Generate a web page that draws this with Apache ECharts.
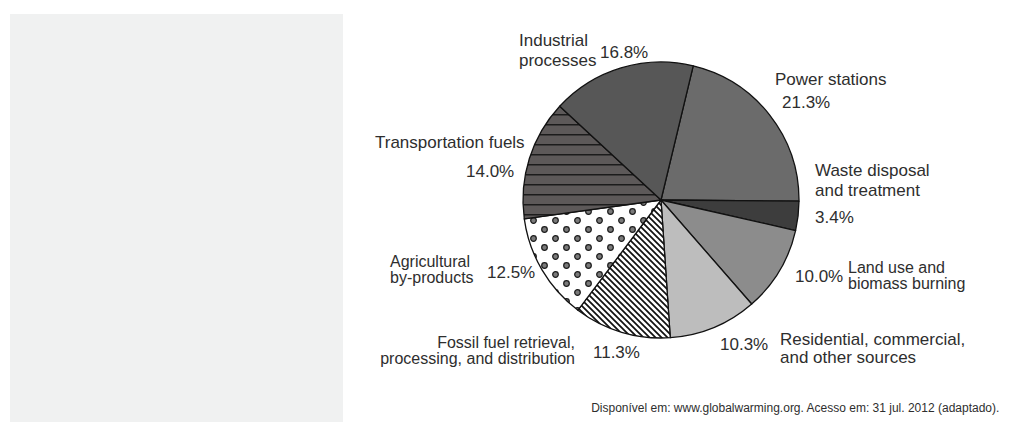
<!DOCTYPE html>
<html><head><meta charset="utf-8">
<script src="https://cdn.jsdelivr.net/npm/echarts@6/dist/echarts.min.js"></script>
<style>html,body{margin:0;padding:0;background:#fff}#c{width:1010px;height:425px}</style>
</head><body><div id="c"></div>
<script>
// ---- data ----
const categories = [
  "Power stations",
  "Waste disposal\nand treatment",
  "Land use and\nbiomass burning",
  "Residential, commercial,\nand other sources",
  "Fossil fuel retrieval,\nprocessing, and distribution",
  "Agricultural\nby-products",
  "Transportation fuels",
  "Industrial\nprocesses"
];
const shares = [21.3, 3.4, 10.0, 10.3, 11.3, 12.5, 14.0, 16.8];
const sourceNote = "Disponível em: www.globalwarming.org. Acesso em: 31 jul. 2012 (adaptado).";

// ---- layout (label placement only): x, y, align, lineHeight, fontSize ----
const namePos = [
  [775, 79, 'left', 20, 17], [815, 180, 'left', 20, 17], [848, 275.5, 'left', 16.5, 16],
  [780, 348, 'left', 18, 17], [575, 350.5, 'right', 16.5, 16], [390, 269.5, 'left', 16.5, 16],
  [375, 142, 'left', 20, 17], [519, 50, 'left', 20, 17]
];
const pctPos = [
  [782, 102], [815, 217], [795, 276.5], [720, 344],
  [593, 352], [487, 272], [466, 171], [600, 52]
];

// ---- patterns ----
function tile(w, h, draw) {
  const c = document.createElement('canvas'); c.width = w; c.height = h;
  draw(c.getContext('2d'), w, h); return { image: c, repeat: 'repeat' };
}
const hStripes = tile(10, 10, (g, w, h) => {
  g.fillStyle = '#5d5959'; g.fillRect(0, 0, w, h);
  g.fillStyle = '#1c1c1c'; g.fillRect(0, 4, w, 1.5);
});
const dStripes = tile(6, 6, (g, w, h) => {
  g.fillStyle = '#ffffff'; g.fillRect(0, 0, w, h);
  g.strokeStyle = '#111'; g.lineWidth = 1.7;
  g.beginPath();
  g.moveTo(-1, -1); g.lineTo(w + 1, h + 1);
  g.moveTo(-1, h - 1); g.lineTo(1, h + 1);
  g.moveTo(w - 1, -1); g.lineTo(w + 1, 1);
  g.stroke();
});
const dots = tile(22, 18, (g, w, h) => {
  g.fillStyle = '#ffffff'; g.fillRect(0, 0, w, h);
  const ring = (x, y) => { g.beginPath(); g.arc(x, y, 2.8, 0, Math.PI * 2); g.fillStyle = '#7a7a7a'; g.fill(); g.strokeStyle = '#1a1a1a'; g.lineWidth = 1.2; g.stroke(); };
  ring(5.5, 4.5); ring(16.5, 13.5);
});
const sliceFills = ['#6b6b6b', '#3d3d3d', '#8c8c8c', '#bdbdbd', dStripes, dots, hStripes, '#575757'];

const font = '"Liberation Sans", Arial, sans-serif';
const textColor = '#2e2e2e';

const chart = echarts.init(document.getElementById('c'), null, { renderer: 'svg' });
chart.setOption({
  backgroundColor: '#ffffff',
  animation: false,
  graphic: [
    { type: 'rect', shape: { x: 10, y: 14, width: 333, height: 408 }, style: { fill: '#f0f1f1' }, silent: true },
    { type: 'text', right: 10, top: 402, style: { text: sourceNote, font: '12px ' + font, fill: textColor } }
  ],
  series: [
    {
      type: 'pie', center: [661, 200], radius: 138, startAngle: 76.5, clockwise: true,
      avoidLabelOverlap: false, silent: true,
      data: categories.map((n, i) => ({
        name: n, value: shares[i],
        itemStyle: { color: sliceFills[i] },
        label: { lineHeight: namePos[i][3], align: namePos[i][2], fontSize: namePos[i][4] }
      })),
      itemStyle: { borderColor: '#111', borderWidth: 1.3 },
      label: { show: true, position: 'outside', formatter: '{b}', color: textColor, fontSize: 17, fontFamily: font },
      labelLine: { show: false },
      labelLayout: p => ({ x: namePos[p.dataIndex][0], y: namePos[p.dataIndex][1], align: namePos[p.dataIndex][2], verticalAlign: 'middle' })
    },
    {
      type: 'pie', center: [661, 200], radius: 138, startAngle: 76.5, clockwise: true,
      avoidLabelOverlap: false, silent: true,
      data: categories.map((n, i) => ({ name: n, value: shares[i] })),
      itemStyle: { color: 'rgba(0,0,0,0)', borderWidth: 0 },
      label: { show: true, position: 'outside', formatter: p => p.value.toFixed(1) + '%', color: textColor, fontSize: 17, fontFamily: font },
      labelLine: { show: false },
      labelLayout: p => ({ x: pctPos[p.dataIndex][0], y: pctPos[p.dataIndex][1], align: 'left', verticalAlign: 'middle' })
    }
  ]
});
</script></body></html>
